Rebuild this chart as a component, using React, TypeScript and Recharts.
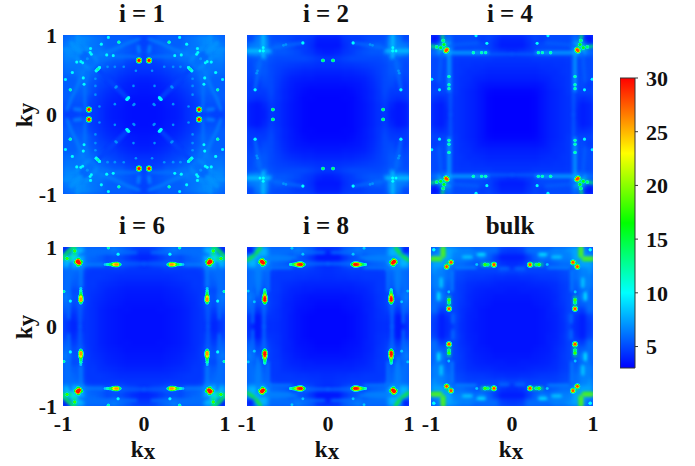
import { Bar, BarChart, ReferenceArea, Scatter, ScatterChart, XAxis, YAxis } from 'recharts';

// k values of the grid cells along one side of a quadrant
const kGrid = [0.04, 0.125, 0.21, 0.29, 0.375, 0.46, 0.54, 0.625, 0.71, 0.79, 0.875, 0.96];

// colour scale
const scaleValues = [3, 10, 16.5, 23, 30];
const scaleColors = ['#0000ff', '#00ffff', '#00ff00', '#ffff00', '#ff0000'];
const scaleTicks = [5, 10, 15, 20, 25, 30];
const scaleMinor = [3, 4, 6, 7, 8, 9, 11, 12, 13, 14, 16, 17, 18, 19, 21, 22, 23, 24, 26, 27, 28, 29];
const levels = [7, 8.5, 10, 12, 14, 16, 18, 20, 22, 24, 26, 28, 29.5];

// background: one row per ky, up to the diagonal (the maps have square symmetry)
const grid1 = [
  [3.4],
  [3.4, 3.5],
  [3.5, 3.5, 3.7],
  [3.6, 3.7, 3.8, 4.0],
  [3.7, 3.8, 3.9, 4.1, 4.4],
  [3.9, 4.0, 4.1, 4.3, 4.6, 4.6],
  [4.3, 4.3, 4.4, 4.6, 4.8, 5.0, 5.4],
  [4.6, 4.6, 4.7, 5.0, 5.2, 5.4, 5.8, 6.0],
  [4.8, 4.9, 5.2, 5.6, 5.6, 6.0, 6.0, 6.2, 6.0],
  [5.0, 5.2, 5.4, 5.6, 5.8, 6.0, 6.3, 6.2, 5.8, 6.0],
  [4.8, 5.2, 5.4, 5.6, 5.6, 5.6, 6.0, 6.2, 6.4, 6.8, 6.6],
  [4.8, 5.2, 5.6, 5.6, 5.6, 5.6, 6.0, 6.2, 6.6, 6.8, 6.4, 6.0],
];
const grid2 = [
  [3.1],
  [3.1, 3.1],
  [3.1, 3.1, 3.2],
  [3.2, 3.2, 3.2, 3.3],
  [3.4, 3.4, 3.4, 3.5, 3.6],
  [3.6, 3.6, 3.7, 3.7, 3.8, 3.9],
  [3.9, 3.9, 4.0, 4.0, 4.1, 4.2, 4.4],
  [4.3, 4.3, 4.4, 4.4, 4.5, 4.6, 4.7, 4.8],
  [4.5, 4.6, 4.8, 5.0, 5.0, 5.0, 5.0, 5.0, 5.2],
  [3.8, 4.0, 4.4, 4.6, 5.0, 5.2, 5.4, 5.4, 5.6, 7.0],
  [3.6, 3.6, 4.2, 4.6, 4.6, 5.0, 5.4, 5.6, 5.4, 7.5, 6.5],
  [3.8, 3.8, 4.4, 4.6, 4.6, 4.8, 5.0, 5.0, 5.2, 7.0, 6.2, 5.0],
];
const grid4 = [
  [3.0],
  [3.0, 3.0],
  [3.0, 3.0, 3.0],
  [3.1, 3.1, 3.1, 3.2],
  [3.5, 3.5, 3.5, 3.5, 3.6],
  [3.8, 3.8, 3.8, 3.8, 3.9, 4.0],
  [4.0, 4.0, 4.0, 4.0, 4.1, 4.2, 4.2],
  [4.2, 4.2, 4.2, 4.2, 4.3, 4.3, 4.4, 4.4],
  [4.4, 4.4, 4.4, 4.5, 4.5, 4.5, 4.5, 4.5, 4.6],
  [4.2, 4.4, 4.6, 4.8, 5.0, 5.2, 5.0, 5.0, 5.0, 7.0],
  [3.8, 3.8, 4.2, 4.8, 5.0, 5.0, 5.0, 5.0, 5.0, 7.5, 7.0],
  [4.0, 4.0, 4.4, 4.8, 4.6, 5.0, 5.0, 5.0, 5.0, 6.0, 4.5, 3.4],
];
const grid6 = [
  [3.4],
  [3.4, 3.4],
  [3.4, 3.4, 3.5],
  [3.5, 3.5, 3.5, 3.6],
  [3.6, 3.6, 3.6, 3.7, 3.8],
  [3.7, 3.7, 3.7, 3.8, 3.9, 4.0],
  [3.9, 3.9, 3.9, 4.0, 4.1, 4.2, 4.3],
  [4.2, 4.2, 4.2, 4.2, 4.3, 4.4, 4.5, 4.5],
  [4.4, 4.4, 4.4, 4.5, 4.5, 4.5, 4.5, 4.5, 4.6],
  [4.4, 4.8, 5.0, 5.5, 5.5, 5.2, 5.5, 5.5, 5.8, 8.0],
  [4.0, 4.2, 4.6, 5.0, 5.2, 5.0, 5.5, 5.8, 6.0, 8.0, 9.0],
  [4.6, 4.8, 5.5, 6.0, 6.5, 6.0, 6.0, 6.0, 6.0, 8.0, 8.0, 3.8],
];
const grid8 = [
  [3.2],
  [3.2, 3.2],
  [3.2, 3.2, 3.3],
  [3.3, 3.3, 3.4, 3.5],
  [3.5, 3.5, 3.5, 3.6, 3.7],
  [3.7, 3.7, 3.8, 3.8, 3.9, 4.0],
  [4.0, 4.0, 4.0, 4.0, 4.1, 4.2, 4.3],
  [4.2, 4.3, 4.3, 4.4, 4.4, 4.5, 4.5, 4.5],
  [4.3, 4.4, 4.5, 4.6, 4.6, 4.6, 4.6, 4.6, 4.8],
  [4.2, 4.4, 5.0, 5.6, 5.5, 5.2, 5.6, 5.8, 6.0, 8.0],
  [3.6, 3.6, 4.4, 5.0, 5.4, 5.4, 6.0, 6.2, 6.2, 8.0, 8.0],
  [4.2, 4.4, 5.5, 6.0, 6.5, 6.0, 6.0, 6.0, 6.0, 8.0, 7.5, 3.8],
];
const gridBulk = [
  [3.5],
  [3.5, 3.5],
  [3.5, 3.5, 3.5],
  [3.5, 3.5, 3.5, 3.6],
  [3.6, 3.6, 3.6, 3.7, 3.8],
  [3.7, 3.8, 3.8, 3.8, 3.9, 4.0],
  [3.9, 3.9, 4.0, 4.1, 4.1, 4.2, 4.3],
  [4.2, 4.3, 4.3, 4.4, 4.5, 4.5, 4.6, 4.8],
  [4.8, 5.0, 4.8, 4.8, 4.8, 4.8, 4.8, 5.0, 5.2],
  [4.2, 4.4, 5.0, 5.2, 5.2, 5.4, 5.6, 6.0, 6.0, 7.0],
  [3.8, 3.8, 4.6, 5.6, 6.5, 6.0, 6.5, 6.5, 6.5, 7.5, 7.5],
  [4.6, 4.8, 6.0, 6.0, 6.0, 6.0, 6.5, 6.5, 7.0, 7.5, 7.0, 6.0],
];

// thin ridges: [value, ...points along the ridge]
const ridges1: any[][] = [
  [6.2, [0.05, 0.72], [0.16, 0.73], [0.37, 0.73], [0.45, 0.72], [0.58, 0.68], [0.66, 0.58]],
  [6.5, [0.6, 0.72], [0.46, 0.78], [0.34, 0.83], [0.2, 0.9], [0.06, 0.95]],
  [6.8, [0.58, 0.68], [0.68, 0.8], [0.76, 0.92]],
  [7, [0.82, 0.66], [0.82, 1]],
  [7, [0.78, 0.78], [0.9, 0.9]],
  [4.8, [0.2, 0.2], [0.34, 0.35], [0.57, 0.57]],
  [7, [0.06, 0.78], [0.07, 0.86]],
];
const ridges2: any[][] = [
  [8.5, [0.8, 0.72], [0.8, 1]],
  [6.5, [0.78, 0.7], [0.78, 1]],
  [6.5, [0.82, 0.76], [0.82, 1]],
  [6, [0.32, 0.9], [0.5, 0.87], [0.72, 0.83]],
];
const ridges4: any[][] = [
  [5.5, [0, 0.76], [0.3, 0.76], [0.72, 0.76]],
  [7.5, [0.3, 0.778], [0.8, 0.778]],
  [14, [0.82, 0.82], [0.84, 0.88], [0.86, 1]],
  [5.6, [0.42, 0.9], [0.7, 0.88], [0.8, 0.85]],
];
const ridges6: any[][] = [
  [6, [0.1, 0.93], [0.45, 0.93], [0.7, 0.92], [0.8, 0.9]],
  [5.6, [0, 0.79], [0.28, 0.79]],
  [6.5, [0.5, 0.78], [0.76, 0.78]],
  [15, [0.855, 0.9], [0.855, 1]],
  [15, [0.87, 1], [0.94, 0.94]],
];
const ridges8: any[][] = [
  [6.2, [0.45, 0.74], [0.7, 0.74], [0.76, 0.72]],
  [6.5, [0.46, 0.85], [0.72, 0.85], [0.78, 0.83]],
  [6, [0.05, 0.93], [0.4, 0.93]],
  [17, [0.83, 1], [0.89, 0.915]],
  [6.5, [0.4, 0.87], [0.84, 0.87]],
  [6, [0, 0.79], [0.28, 0.79]],
];
const ridgesBulk: any[][] = [
  [18, [0.84, 0.88], [0.84, 1]],
  [19, [0.86, 0.88], [0.86, 1]],
  [9, [0.5, 0.875], [0.6, 0.875]],
  [10, [0.34, 0.905], [0.42, 0.905]],
  [15, [0.753, 0.807], [0.79, 0.79]],
  [14, [0.222, 0.778], [0.37, 0.778]],
  [6, [0.05, 0.73], [0.15, 0.73]],
  [6.5, [0.45, 0.74], [0.7, 0.74]],
  [6.5, [0.45, 0.93], [0.7, 0.91]],
];

// sharp peaks: [kx, ky, value]
const spots1 = [
  [0.062, 0.68, 30], [0.31, 0.91, 12], [0.44, 0.97, 10], [0.46, 0.75, 11], [0.66, 0.83, 11], [0.665, 0.78, 10],
  [0.527, 0.885, 11], [0.55, 0.59, 11], [0.57, 0.57, 12], [0.59, 0.55, 11], [0.19, 0.21, 10], [0.2, 0.2, 10],
  [0.21, 0.19, 10], [0.34, 0.35, 7.5], [0.13, 0.12, 7], [0.38, 0.74, 10], [0.65, 0.757, 10], [0.13, 0.36, 7],
  [0.36, 0.6, 7.5], [0.45, 0.6, 7.5], [0.1, 0.55, 7], [0.25, 0.6, 7], [0.7, 0.7, 8],
];
const spots2 = [
  [0.062, 0.68, 14], [0.31, 0.9, 11], [0.52, 0.88, 8], [0.55, 0.87, 8], [0.8, 0.8, 11], [0.8, 0.84, 11],
];
const spots4 = [
  [0.815, 0.803, 28], [0.84, 0.88, 17], [0.85, 0.93, 15], [0.325, 0.778, 12], [0.375, 0.778, 12],
  [0.477, 0.778, 13], [0.31, 0.895, 10], [0.444, 0.99, 10],
];
const spots6 = [
  [0.814, 0.807, 30], [0.8, 0.8, 30], [0.825, 0.815, 30], [0.814, 0.775, 17], [0.814, 0.84, 17], [0.78, 0.807, 17],
  [0.845, 0.807, 17], [0.855, 0.95, 18], [0.3, 0.78, 14], [0.33, 0.78, 26], [0.35, 0.78, 26], [0.37, 0.78, 24],
  [0.39, 0.78, 18], [0.42, 0.78, 14], [0.45, 0.78, 12], [0.48, 0.78, 9], [0.44, 0.99, 12], [0.32, 0.91, 11],
];
const spots8 = [
  [0.81, 0.807, 30], [0.8, 0.8, 30], [0.82, 0.815, 30], [0.81, 0.775, 16], [0.81, 0.84, 16], [0.78, 0.807, 16],
  [0.84, 0.807, 16], [0.3, 0.78, 16], [0.33, 0.78, 30], [0.35, 0.78, 30], [0.37, 0.78, 28], [0.4, 0.78, 20],
  [0.43, 0.78, 15], [0.46, 0.78, 12], [0.445, 0.985, 9], [0.31, 0.91, 9],
];
const spotsBulk = [
  [0.753, 0.807, 28], [0.222, 0.778, 28], [0.3, 0.778, 15], [0.333, 0.778, 18], [0.435, 0.78, 9], [0.965, 0.965, 11],
];

const panels = [
  { title: 'i = 1', grid: grid1, ridges: ridges1, spots: spots1, left: 63, top: 35 },
  { title: 'i = 2', grid: grid2, ridges: ridges2, spots: spots2, left: 247, top: 35 },
  { title: 'i = 4', grid: grid4, ridges: ridges4, spots: spots4, left: 431, top: 35 },
  { title: 'i = 6', grid: grid6, ridges: ridges6, spots: spots6, left: 63, top: 247 },
  { title: 'i = 8', grid: grid8, ridges: ridges8, spots: spots8, left: 247, top: 247 },
  { title: 'bulk', grid: gridBulk, ridges: ridgesBulk, spots: spotsBulk, left: 431, top: 247 },
];

const PLOT_W = 162;
const PLOT_H = 159;
const FONT = '"Liberation Serif", "Times New Roman", serif';
const tickFont = { fontFamily: FONT, fontWeight: 700, fontSize: 22, fill: '#111' };

const colorOf = (v: number) => {
  let i = 0;
  while (i < scaleValues.length - 2 && v > scaleValues[i + 1]) i++;
  const t = Math.min(1, Math.max(0, (v - scaleValues[i]) / (scaleValues[i + 1] - scaleValues[i])));
  const ch = (s: string, p: number) => parseInt(s.slice(p, p + 2), 16);
  const mix = (p: number) => Math.round(ch(scaleColors[i], p) + (ch(scaleColors[i + 1], p) - ch(scaleColors[i], p)) * t);
  return `rgb(${mix(1)},${mix(3)},${mix(5)})`;
};

const mirrored = (x: number, y: number) => [
  [x, y], [-x, y], [x, -y], [-x, -y], [y, x], [-y, x], [y, -x], [-y, -x],
];

const buildCells = (grid: number[][]) =>
  grid.flatMap((row, r) =>
    row.flatMap((value, c) => mirrored(kGrid[c], kGrid[r]).map(([kx, ky]) => ({ kx, ky, value }))),
  );

// a peak is painted as rings, lowest level first, so neighbouring peaks merge
const buildSpots = (spots: number[][]) =>
  levels.flatMap((level) =>
    spots
      .filter((s) => s[2] >= level)
      .flatMap(([x, y, peak]) => mirrored(x, y).map(([kx, ky]) => ({ kx, ky, level, peak }))),
  );

// the eight mirror images of a ridge, low ridges first
const buildRidges = (ridges: any[][]) =>
  [...ridges]
    .sort((a, b) => a[0] - b[0])
    .flatMap(([value, ...points]) =>
      [0, 1, 2, 3, 4, 5, 6, 7].map((m) => ({
        value,
        points: points.map(([x, y]: number[]) => {
          const [kx, ky] = mirrored(x, y)[m];
          return { kx, ky };
        }),
      })),
    );

const CellShape = (props: any) => (
  <rect x={props.cx - 3.8} y={props.cy - 3.8} width={7.6} height={7.6} fill={colorOf(props.payload.value)} />
);

const SpotShape = (props: any) => {
  const { level, peak } = props.payload;
  return <circle cx={props.cx} cy={props.cy} r={1.3 + (peak - level) * 0.08} fill={colorOf(level)} />;
};

const NoShape = () => <g />;

const Panel = ({ panel, showX, showY }: { panel: (typeof panels)[number]; showX: boolean; showY: boolean }) => (
  <div style={{ position: 'absolute', left: panel.left - 40, top: panel.top - 15 }}>
    <ScatterChart
      width={40 + PLOT_W + 15}
      height={15 + PLOT_H + 32}
      margin={{ top: 15, right: 15, bottom: showX ? 2 : 32, left: showY ? 0 : 40 }}
    >
      <XAxis
        type="number"
        dataKey="kx"
        domain={[-1, 1]}
        ticks={[-1, 0, 1]}
        interval={0}
        allowDataOverflow
        hide={!showX}
        height={30}
        axisLine={false}
        tickLine={false}
        tick={tickFont}
        tickMargin={3}
      />
      <YAxis
        type="number"
        dataKey="ky"
        domain={[-1, 1]}
        ticks={[-1, 0, 1]}
        interval={0}
        allowDataOverflow
        hide={!showY}
        width={40}
        axisLine={false}
        tickLine={false}
        tick={tickFont}
        tickMargin={6}
        tickSize={0}
      />
      <ReferenceArea x1={-1} x2={1} y1={-1} y2={1} fill="#0a50ff" fillOpacity={1} stroke="none" />
      <Scatter className="cells" data={buildCells(panel.grid)} shape={CellShape} isAnimationActive={false} />
      {buildRidges(panel.ridges).map((ridge, i) => (
        <Scatter
          key={i}
          className="ridges"
          data={ridge.points}
          shape={NoShape}
          line={{ stroke: colorOf(ridge.value), strokeWidth: 2.6, strokeLinecap: 'round' }}
          lineType="joint"
          isAnimationActive={false}
        />
      ))}
      <Scatter className="spots" data={buildSpots(panel.spots)} shape={SpotShape} isAnimationActive={false} />
    </ScatterChart>
  </div>
);

const AxisName = ({ axis, x, y, rotate }: { axis: string; x: number; y: number; rotate?: boolean }) => (
  <div
    style={{
      position: 'absolute',
      left: x - 30,
      top: y - 15,
      width: 60,
      height: 30,
      lineHeight: '30px',
      textAlign: 'center',
      fontFamily: FONT,
      fontWeight: 700,
      fontSize: 23,
      color: '#111',
      transform: rotate ? 'rotate(-90deg)' : undefined,
    }}
  >
    k<span style={{ position: 'relative', top: 2 }}>{axis}</span>
  </div>
);

const ColorBar = () => (
  <div style={{ position: 'absolute', left: 620, top: 60 }}>
    <BarChart
      width={70}
      height={326}
      data={[{ range: [3, 30] }]}
      margin={{ top: 18, right: 0, bottom: 18, left: 0 }}
      barCategoryGap={0}
    >
      <defs>
        <linearGradient id="jet" x1="0" y1="1" x2="0" y2="0">
          {scaleValues.map((v, i) => (
            <stop key={v} offset={(v - 3) / 27} stopColor={scaleColors[i]} />
          ))}
        </linearGradient>
      </defs>
      <XAxis hide />
      <YAxis
        yAxisId="minor"
        orientation="right"
        type="number"
        domain={[3, 30]}
        ticks={scaleMinor}
        interval={0}
        width={0}
        axisLine={false}
        tickLine={{ stroke: '#333' }}
        tickSize={1.5}
        tickFormatter={() => ''}
      />
      <YAxis
        orientation="right"
        type="number"
        domain={[3, 30]}
        ticks={scaleTicks}
        interval={0}
        width={55}
        axisLine={false}
        tickLine={{ stroke: '#333' }}
        tickSize={3}
        tickMargin={8}
        tick={tickFont}
      />
      <Bar dataKey="range" fill="url(#jet)" stroke="#333" strokeWidth={1} isAnimationActive={false} />
    </BarChart>
  </div>
);

export default function App() {
  return (
    <div style={{ position: 'absolute', left: 0, top: 0, width: 695, height: 466, background: '#fff', overflow: 'hidden' }}>
      <style>{`.cells { filter: blur(2px); } .ridges { filter: blur(1.1px); } .spots { filter: blur(0.3px); }`}</style>
      {panels.map((p, i) => (
        <div key={p.title}>
          <Panel panel={p} showX={i >= 3} showY={i % 3 === 0} />
          <div
            style={{
              position: 'absolute',
              left: p.left,
              top: p.top - 36,
              width: PLOT_W - 4,
              textAlign: 'center',
              fontFamily: FONT,
              fontWeight: 700,
              fontSize: 25,
              lineHeight: '30px',
              color: '#111',
            }}
          >
            {p.title}
          </div>
        </div>
      ))}
      <AxisName axis="y" x={25} y={115} rotate />
      <AxisName axis="y" x={25} y={327} rotate />
      <AxisName axis="x" x={143} y={450} />
      <AxisName axis="x" x={327} y={450} />
      <AxisName axis="x" x={511} y={450} />
      <ColorBar />
    </div>
  );
}
